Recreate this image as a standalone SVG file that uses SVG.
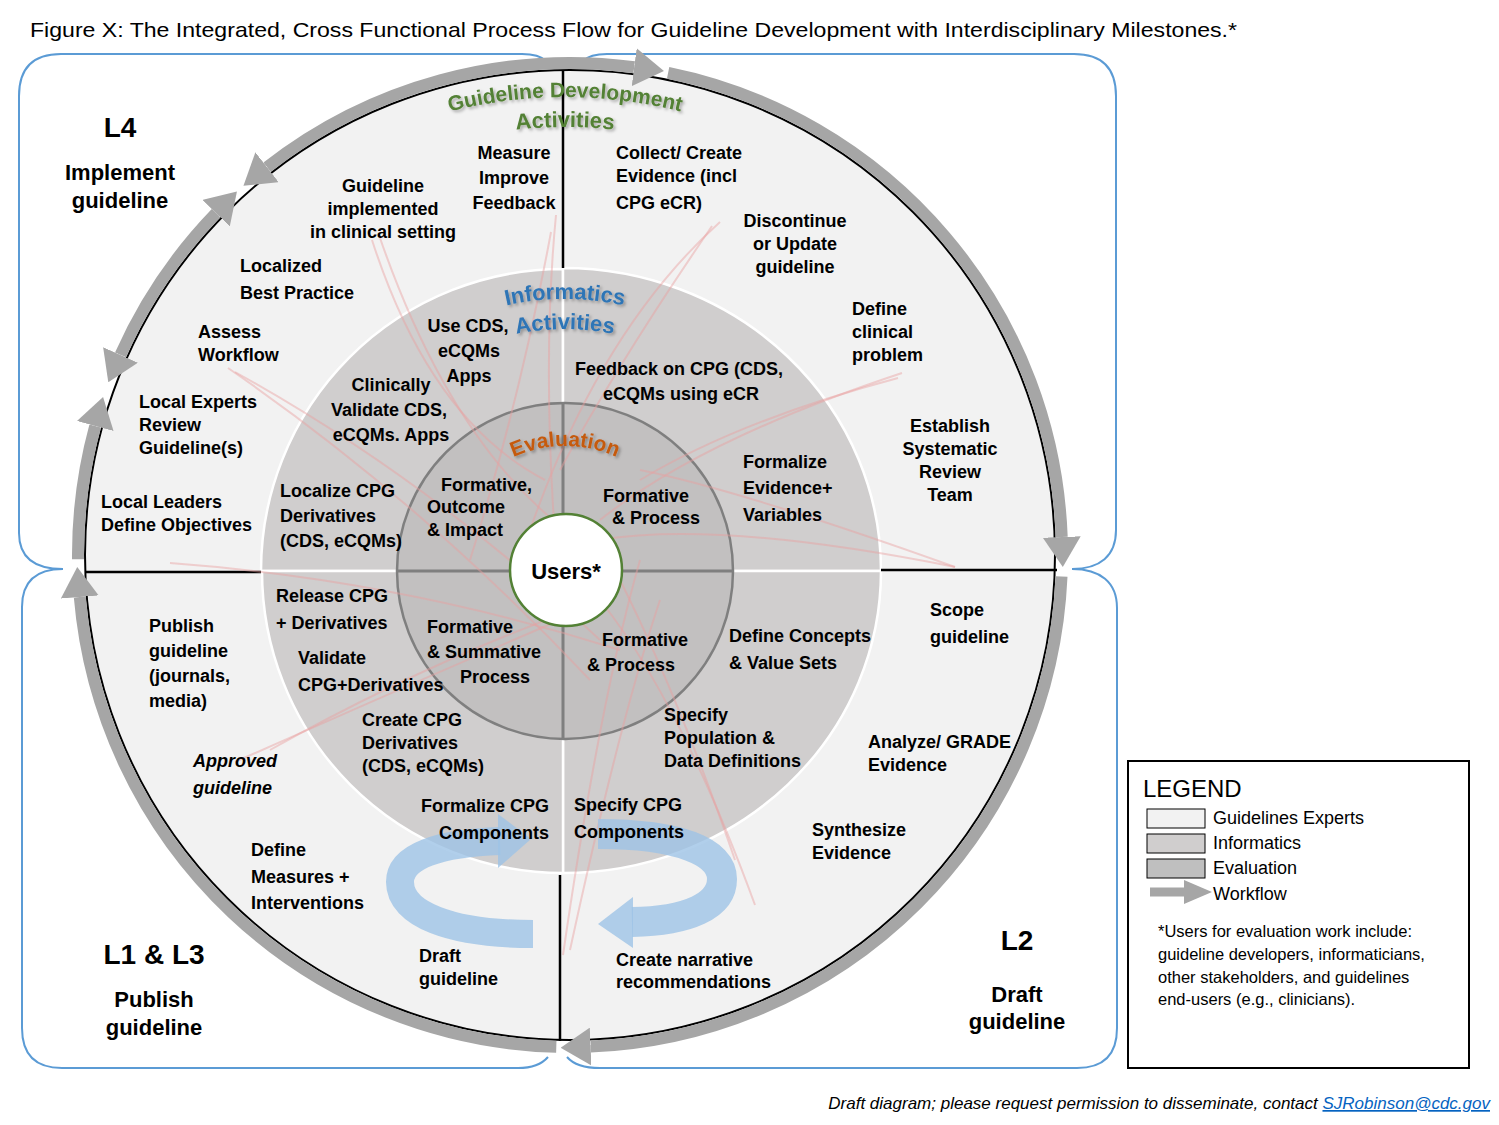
<svg xmlns="http://www.w3.org/2000/svg" width="1499" height="1125" viewBox="0 0 1499 1125">
<style>
.t{font-family:"Liberation Sans",Arial,sans-serif;font-weight:bold;font-size:18px;fill:#000}
.c{text-anchor:middle}
.big{font-size:22px}
.lv{font-size:28px}
.arc{font-family:"Liberation Sans",Arial,sans-serif;font-weight:bold;font-size:22px}
.wf{fill:none;stroke:#a6a6a6;stroke-width:12}
.br{fill:none;stroke:#5b9bd5;stroke-width:2}
.pk{fill:none;stroke:#e8a0a0;stroke-width:2;opacity:0.45}
.lg{font-family:"Liberation Sans",Arial,sans-serif;font-size:18px;fill:#000}
.ring{fill:none;stroke:#9dc3e6;opacity:0.8}
</style>
<defs>
<marker id="ah" markerUnits="userSpaceOnUse" markerWidth="30" markerHeight="38" viewBox="0 0 30 38" refX="0" refY="19" orient="auto-start-reverse"><path d="M0,0 L30,19 L0,38 Z" fill="#a6a6a6"/></marker>
<filter id="sh" x="-10%" y="-30%" width="130%" height="160%"><feDropShadow dx="2" dy="2" stdDeviation="1.5" flood-color="#000" flood-opacity="0.3"/></filter>
<path id="pGD" d="M91,571 A474,474 0 0 1 1039,571"/>
<path id="pGA" d="M121,571 A444,444 0 0 1 1009,571"/>
<path id="pIN" d="M293,571 A272,272 0 0 1 837,571"/>
<path id="pIA" d="M323,571 A242,242 0 0 1 807,571"/>
<path id="pEV" d="M440,571 A125,125 0 0 1 690,571"/>
</defs>
<rect width="1499" height="1125" fill="#fff"/>
<text x="30" y="37" font-family="Liberation Sans, Arial, sans-serif" font-size="21" textLength="1207" lengthAdjust="spacingAndGlyphs">Figure X: The Integrated, Cross Functional Process Flow for Guideline Development with Interdisciplinary Milestones.*</text>

<g id="brackets">
<path class="br" d="M63,569 C35,569 19,558 19,533 L19,96 Q19,54 61,54 L522,54 C534,54 541,56 546,61"/>
<path class="br" d="M583,61 C588,56 595,54 607,54 L1074,54 Q1116,54 1116,96 L1116,530 C1116,556 1100,569 1072,569"/>
<path class="br" d="M1072,569 C1100,569 1117,582 1117,608 L1117,1028 Q1117,1068 1077,1068 L600,1068 C585,1068 573,1064 567,1057"/>
<path class="br" d="M548,1057 C542,1064 531,1068 518,1068 L62,1068 Q22,1068 22,1028 L22,607 C22,581 36,569 63,569"/>
</g>

<g id="outer-ring">
<circle cx="570" cy="555" r="485" fill="#f2f2f2" stroke="#000" stroke-width="2"/>
</g>
<g id="informatics-ring" stroke="#fff" stroke-width="2.5" fill="#d0cece">
<path d="M563,571 L261,571 A302,302 0 0 1 563,269 Z"/>
<path d="M563,571 L563,268 A318,303 0 0 1 881,571 Z"/>
<path d="M563,571 L881,571 A318,302 0 0 1 563,873 Z"/>
<path d="M563,571 L563,873 A301,302 0 0 1 262,571 Z"/>
</g>
<g id="dividers" stroke="#000" stroke-width="2.5">
<line x1="563" y1="71" x2="563" y2="268"/>
<line x1="560" y1="875" x2="560" y2="1041"/>
<line x1="86" y1="572" x2="261" y2="572"/>
<line x1="881" y1="570" x2="1057" y2="570"/>
</g>
<g id="evaluation-ring">
<circle cx="565" cy="571" r="168" fill="#c2c0c0" stroke="#7f7f7f" stroke-width="2.5"/>
<line x1="563" y1="403" x2="563" y2="739" stroke="#7f7f7f" stroke-width="3"/>
<line x1="397" y1="571" x2="733" y2="571" stroke="#7f7f7f" stroke-width="3"/>
</g>

<g id="faint-links">
<path class="pk" d="M372,240 Q430,420 545,480"/>
<path class="pk" d="M380,238 Q450,440 565,530"/>
<path class="pk" d="M551,232 Q520,400 470,560"/>
<path class="pk" d="M556,215 Q540,380 560,600"/>
<path class="pk" d="M720,222 Q600,330 530,530"/>
<path class="pk" d="M712,226 Q620,360 560,470"/>
<path class="pk" d="M902,373 Q700,440 600,520"/>
<path class="pk" d="M898,378 Q740,420 640,480"/>
<path class="pk" d="M955,567 Q720,520 600,540"/>
<path class="pk" d="M955,567 Q740,490 640,470"/>
<path class="pk" d="M228,368 Q420,500 590,680"/>
<path class="pk" d="M235,372 Q430,480 600,640"/>
<path class="pk" d="M170,563 Q400,580 620,650"/>
<path class="pk" d="M235,762 Q420,680 560,620"/>
<path class="pk" d="M270,750 Q430,660 600,600"/>
<path class="pk" d="M563,955 Q600,700 640,560"/>
<path class="pk" d="M570,950 Q620,720 660,600"/>
<path class="pk" d="M755,905 Q680,700 600,600"/>
<path class="pk" d="M735,860 Q680,700 620,580"/>
</g>

<g id="users">
<circle cx="566" cy="570" r="56" fill="#fff" stroke="#538135" stroke-width="2.5"/>
<text class="t c big" x="566" y="579">Users*</text>
</g>

<g id="ring-titles" filter="url(#sh)">
<text class="arc" fill="#538135" font-size="21" style="font-size:21px"><textPath href="#pGD" startOffset="50%" text-anchor="middle">Guideline Development</textPath></text>
<text class="arc" fill="#538135"><textPath href="#pGA" startOffset="50%" text-anchor="middle">Activities</textPath></text>
<text class="arc" fill="#2e75b6"><textPath href="#pIN" startOffset="50%" text-anchor="middle">Informatics</textPath></text>
<text class="arc" fill="#2e75b6"><textPath href="#pIA" startOffset="50%" text-anchor="middle">Activities</textPath></text>
<text class="arc" fill="#c55a11" style="font-size:21px"><textPath href="#pEV" startOffset="50%" text-anchor="middle">Evaluation</textPath></text>
</g>

<g id="connectors">
<path class="wf" d="M267.1,167.3 A492,492 0 0 1 634.2,67.2" marker-start="url(#ah)" marker-end="url(#ah)"/>
<path class="wf" d="M668.1,72.9 A492,492 0 0 1 1061.7,537.0" marker-end="url(#ah)"/>
<path class="wf" d="M1061.5,576.5 A492,492 0 0 1 590.6,1046.6" marker-end="url(#ah)"/>
<path class="wf" d="M556.3,1046.8 A492,492 0 0 1 79.8,597.0" marker-end="url(#ah)"/>
<path class="wf" d="M78.0,559.3 A492,492 0 0 1 95.2,426.0" marker-end="url(#ah)"/>
<path class="wf" d="M120.5,354.9 A492,492 0 0 1 216.1,213.2" marker-start="url(#ah)" marker-end="url(#ah)"/>
<g id="cycle-left">
<path class="ring" stroke-width="28" d="M533,934 C450,934 400,914 400,882 C400,856 440,843 500,841"/>
<polygon points="498,814 531,839 498,868" fill="#9dc3e6" opacity="0.8"/>
</g>
<g id="cycle-right">
<path class="ring" stroke-width="30" d="M598,834 C680,834 722,852 722,879 C722,906 688,921 632,922"/>
<polygon points="633,897 598,924 633,948" fill="#9dc3e6" opacity="0.8"/>
</g>
</g>

<g id="n-L4"><text class="t c lv" x="120" y="137">L4</text><text class="t c big"><tspan x="120" y="180">Implement</tspan><tspan x="120" y="208">guideline</tspan></text></g>
<g id="n-implemented"><text class="t c"><tspan x="383" y="192">Guideline</tspan><tspan x="383" y="215">implemented</tspan><tspan x="383" y="238">in clinical setting</tspan></text></g>
<g id="n-measure"><text class="t c"><tspan x="514" y="159">Measure</tspan><tspan x="514" y="184">Improve</tspan><tspan x="514" y="209">Feedback</tspan></text></g>
<g id="n-localized"><text class="t"><tspan x="240" y="272">Localized</tspan><tspan x="240" y="299">Best Practice</tspan></text></g>
<g id="n-assess"><text class="t"><tspan x="198" y="338">Assess</tspan><tspan x="198" y="361">Workflow</tspan></text></g>
<g id="n-local-experts"><text class="t"><tspan x="139" y="408">Local Experts</tspan><tspan x="139" y="431">Review</tspan><tspan x="139" y="454">Guideline(s)</tspan></text></g>
<g id="n-local-leaders"><text class="t"><tspan x="101" y="508">Local Leaders</tspan><tspan x="101" y="531">Define Objectives</tspan></text></g>

<g id="n-collect"><text class="t"><tspan x="616" y="159">Collect/ Create</tspan><tspan x="616" y="182">Evidence (incl</tspan><tspan x="616" y="209">CPG eCR)</tspan></text></g>
<g id="n-discontinue"><text class="t c"><tspan x="795" y="227">Discontinue</tspan><tspan x="795" y="250">or Update</tspan><tspan x="795" y="273">guideline</tspan></text></g>
<g id="n-define-problem"><text class="t"><tspan x="852" y="315">Define</tspan><tspan x="852" y="338">clinical</tspan><tspan x="852" y="361">problem</tspan></text></g>
<g id="n-establish"><text class="t c"><tspan x="950" y="432">Establish</tspan><tspan x="950" y="455">Systematic</tspan><tspan x="950" y="478">Review</tspan><tspan x="950" y="501">Team</tspan></text></g>

<g id="n-use-cds"><text class="t c"><tspan x="468" y="332">Use CDS,</tspan><tspan x="469" y="357">eCQMs</tspan><tspan x="469" y="382">Apps</tspan></text></g>
<g id="n-clin-validate"><text class="t c"><tspan x="391" y="391">Clinically</tspan><tspan x="389" y="416">Validate CDS,</tspan><tspan x="391" y="441">eCQMs. Apps</tspan></text></g>
<g id="n-localize-cpg"><text class="t"><tspan x="280" y="497">Localize CPG</tspan><tspan x="280" y="522">Derivatives</tspan><tspan x="280" y="547">(CDS, eCQMs)</tspan></text></g>
<g id="n-feedback-cpg"><text class="t c"><tspan x="679" y="375">Feedback on CPG (CDS,</tspan><tspan x="681" y="400">eCQMs using eCR</tspan></text></g>
<g id="n-formalize-ev"><text class="t"><tspan x="743" y="468">Formalize</tspan><tspan x="743" y="494">Evidence+</tspan><tspan x="743" y="521">Variables</tspan></text></g>

<g id="n-eval-tl"><text class="t"><tspan x="441" y="491">Formative,</tspan><tspan x="427" y="513">Outcome</tspan><tspan x="427" y="536">&amp; Impact</tspan></text></g>
<g id="n-eval-tr"><text class="t c"><tspan x="646" y="502">Formative</tspan><tspan x="656" y="524">&amp; Process</tspan></text></g>
<g id="n-eval-bl"><text class="t"><tspan x="427" y="633">Formative</tspan><tspan x="427" y="658">&amp; Summative</tspan><tspan x="460" y="683">Process</tspan></text></g>
<g id="n-eval-br"><text class="t c"><tspan x="645" y="646">Formative</tspan><tspan x="631" y="671">&amp; Process</tspan></text></g>

<g id="n-release"><text class="t"><tspan x="276" y="602">Release CPG</tspan><tspan x="276" y="629">+ Derivatives</tspan></text></g>
<g id="n-validate"><text class="t"><tspan x="298" y="664">Validate</tspan><tspan x="298" y="691">CPG+Derivatives</tspan></text></g>
<g id="n-create-cpg"><text class="t"><tspan x="362" y="726">Create CPG</tspan><tspan x="362" y="749">Derivatives</tspan><tspan x="362" y="772">(CDS, eCQMs)</tspan></text></g>
<g id="n-formalize-cpg"><text class="t" text-anchor="end"><tspan x="549" y="812">Formalize CPG</tspan><tspan x="549" y="839">Components</tspan></text></g>
<g id="n-define-concepts"><text class="t"><tspan x="729" y="642">Define Concepts</tspan><tspan x="729" y="669">&amp; Value Sets</tspan></text></g>
<g id="n-specify-pop"><text class="t"><tspan x="664" y="721">Specify</tspan><tspan x="664" y="744">Population &amp;</tspan><tspan x="664" y="767">Data Definitions</tspan></text></g>
<g id="n-specify-cpg"><text class="t"><tspan x="574" y="811">Specify CPG</tspan><tspan x="574" y="838">Components</tspan></text></g>

<g id="n-publish"><text class="t"><tspan x="149" y="632">Publish</tspan><tspan x="149" y="657">guideline</tspan><tspan x="149" y="682">(journals,</tspan><tspan x="149" y="707">media)</tspan></text></g>
<g id="n-approved"><text class="t" font-style="italic"><tspan x="193" y="767">Approved</tspan><tspan x="193" y="794">guideline</tspan></text></g>
<g id="n-define-measures"><text class="t"><tspan x="251" y="856">Define</tspan><tspan x="251" y="883">Measures +</tspan><tspan x="251" y="909">Interventions</tspan></text></g>
<g id="n-draft"><text class="t"><tspan x="419" y="962">Draft</tspan><tspan x="419" y="985">guideline</tspan></text></g>
<g id="n-L1L3"><text class="t c lv" x="154" y="964">L1 &amp; L3</text><text class="t c big"><tspan x="154" y="1007">Publish</tspan><tspan x="154" y="1035">guideline</tspan></text></g>

<g id="n-scope"><text class="t"><tspan x="930" y="616">Scope</tspan><tspan x="930" y="643">guideline</tspan></text></g>
<g id="n-analyze"><text class="t"><tspan x="868" y="748">Analyze/ GRADE</tspan><tspan x="868" y="771">Evidence</tspan></text></g>
<g id="n-synthesize"><text class="t"><tspan x="812" y="836">Synthesize</tspan><tspan x="812" y="859">Evidence</tspan></text></g>
<g id="n-narrative"><text class="t"><tspan x="616" y="966">Create narrative</tspan><tspan x="616" y="988">recommendations</tspan></text></g>
<g id="n-L2"><text class="t c lv" x="1017" y="950">L2</text><text class="t c big"><tspan x="1017" y="1002">Draft</tspan><tspan x="1017" y="1029">guideline</tspan></text></g>

<g id="legend">
<rect x="1128" y="761" width="341" height="307" fill="#fff" stroke="#000" stroke-width="2"/>
<text x="1143" y="797" font-family="Liberation Sans, Arial, sans-serif" font-size="24">LEGEND</text>
<rect x="1147" y="809" width="58" height="19" fill="#f2f2f2" stroke="#000"/>
<rect x="1147" y="834" width="58" height="19" fill="#d0cece" stroke="#000"/>
<rect x="1147" y="859" width="58" height="19" fill="#bfbfbf" stroke="#000"/>
<line x1="1150" y1="892" x2="1186" y2="892" stroke="#a6a6a6" stroke-width="9"/>
<polygon points="1184,880 1212,892 1184,904" fill="#a6a6a6"/>
<text class="lg" x="1213" y="824">Guidelines Experts</text>
<text class="lg" x="1213" y="849">Informatics</text>
<text class="lg" x="1213" y="874">Evaluation</text>
<text class="lg" x="1213" y="900">Workflow</text>
<text font-family="Liberation Sans, Arial, sans-serif" font-size="16.5"><tspan x="1158" y="937">*Users for evaluation work include:</tspan><tspan x="1158" y="960">guideline developers, informaticians,</tspan><tspan x="1158" y="983">other stakeholders, and guidelines</tspan><tspan x="1158" y="1005">end-users (e.g., clinicians).</tspan></text>
</g>

<text x="1490" y="1109" text-anchor="end" font-family="Liberation Sans, Arial, sans-serif" font-size="17" font-style="italic">Draft diagram; please request permission to disseminate, contact <tspan fill="#0563c1" text-decoration="underline">SJRobinson@cdc.gov</tspan></text>
</svg>
